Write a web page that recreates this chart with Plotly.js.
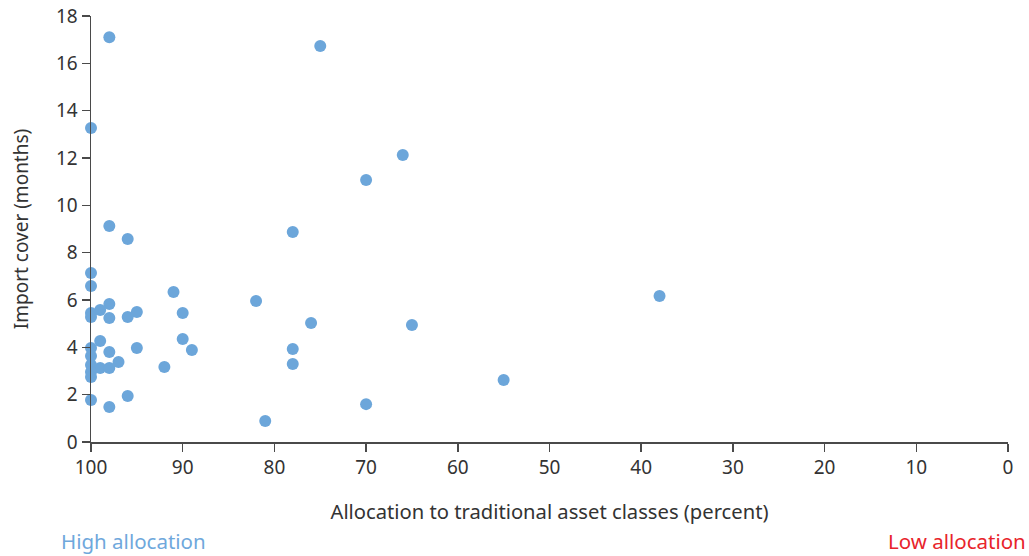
<!DOCTYPE html>
<html>
<head>
<meta charset="utf-8">
<script src="https://cdn.plot.ly/plotly-3.0.1.min.js"></script>
<style>html,body{margin:0;padding:0;background:#fff;}#chart{width:1029px;height:556px;}</style>
</head>
<body>
<div id="chart"></div>
<script>
// Allocation to traditional asset classes (percent)
const allocation = [98, 75, 100, 66, 70, 98, 96, 78, 100, 100, 91, 82, 38, 98, 99, 100, 100, 95, 96, 98, 90, 76, 65, 90, 99, 100, 95, 89, 78, 98, 100, 97, 92, 78, 100, 99, 98, 100, 100, 55, 100, 96, 98, 70, 81];
// Import cover (months)
const importCover = [17.1, 16.73, 13.27, 12.13, 11.07, 9.13, 8.58, 8.87, 7.14, 6.59, 6.34, 5.96, 6.17, 5.83, 5.58, 5.45, 5.28, 5.49, 5.28, 5.24, 5.45, 5.03, 4.94, 4.35, 4.27, 3.97, 3.97, 3.89, 3.93, 3.80, 3.63, 3.38, 3.17, 3.30, 3.25, 3.13, 3.13, 2.96, 2.75, 2.62, 1.77, 1.94, 1.48, 1.6, 0.89];
const xTicks = [100, 90, 80, 70, 60, 50, 40, 30, 20, 10, 0];
const yTicks = [0, 2, 4, 6, 8, 10, 12, 14, 16, 18];
const xTitle = "Allocation to traditional asset classes (percent)";
const yTitle = "Import cover (months)";
const leftNote = "High allocation";
const rightNote = "Low allocation";

const fontFam = '"Noto Sans", "Open Sans", sans-serif';
const trace = {
  x: allocation, y: importCover, type: 'scatter', mode: 'markers',
  cliponaxis: false,
  marker: {size: 12, color: '#6ca6da'},
  hoverinfo: 'skip'
};
const layout = {
  width: 1029, height: 556,
  margin: {l: 91, r: 21, t: 16, b: 114},
  paper_bgcolor: '#fff', plot_bgcolor: '#fff',
  font: {family: fontFam, color: '#333', size: 19},
  showlegend: false,
  xaxis: {
    range: [100, 0], tickvals: xTicks, ticktext: xTicks.map(String),
    showgrid: false, zeroline: false, showline: true, linecolor: '#4a4a4a', linewidth: 1.5,
    ticks: 'outside', ticklen: 8, tickwidth: 1.5, tickcolor: '#4a4a4a',
    tickfont: {size: 19, color: '#333'},
    title: {text: xTitle, font: {size: 20.2, color: '#333'}, standoff: 25}
  },
  yaxis: {
    range: [0, 18], tickvals: yTicks, ticktext: yTicks.map(String),
    showgrid: false, zeroline: false, showline: true, linecolor: '#4a4a4a', linewidth: 1.5,
    ticks: 'outside', ticklen: 8, tickwidth: 1.5, tickcolor: '#4a4a4a',
    tickfont: {size: 19, color: '#333'},
    title: {text: yTitle, font: {size: 19, color: '#333'}, standoff: 22}
  },
  annotations: [
    {text: leftNote, xref: 'paper', yref: 'paper', x: -0.035, y: -0.232, xanchor: 'left', yanchor: 'middle', showarrow: false, font: {size: 20.5, color: '#6fa8dc'}},
    {text: rightNote, xref: 'paper', yref: 'paper', x: 1.022, y: -0.232, xanchor: 'right', yanchor: 'middle', showarrow: false, font: {size: 20.5, color: '#e8242b'}}
  ]
};
Plotly.newPlot('chart', [trace], layout, {displayModeBar: false, staticPlot: true});
</script>
</body>
</html>
